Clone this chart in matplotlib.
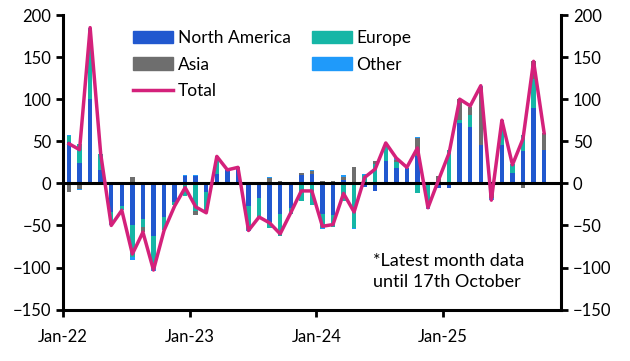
import numpy as np
import pandas as pd
import matplotlib
matplotlib.use("Agg")
import matplotlib.pyplot as plt
from matplotlib.patches import Patch
from matplotlib.lines import Line2D

plt.rcParams['font.family'] = ['Lato', 'DejaVu Sans']

# monthly flows, Jan-22 .. Oct-25
months = pd.date_range('2022-01-01', periods=46, freq='MS')

north_america = [49, 24, 100, 16, -34, -27, -50, -42, -62, -40, -22, 9,
                 9, -10, 11, 16, 18, -27, -17, -46, -36, -29, 10, 11,
                 -37, -38, 4, 0, -4, -9, 26, 18, 18, 32, -1, -5,
                 -6, 72, 67, 45, -2, 45, 12, 38, 90, 40]
europe = [7, 23, 83, 19, -14, -5, -37, -10, -39, -16, -4, -15,
          -33, -25, 21, 0, 0, -29, -25, -7, -27, -8, -21, -26,
          -16, -14, -21, -53, 10, 23, 22, 7, 0, -11, -27, 0,
          40, 3, 14, 0, 0, 28, 11, 20, 34, 0]
asia = [-10, -7, 0, 0, 0, 0, 7, -6, 0, 0, 0, 0,
        -5, 0, 0, 0, 2, 0, 0, 6, 3, 0, 2, 4,
        3, 3, 4, 20, 0, 3, 0, 3, 0, 22, 0, 9,
        0, 25, 10, 70, -16, 2, 0, -5, 21, 20]
other = [1, -1, 2, 0, -2, 0, -4, 0, -3, 0, 0, 1,
         1, 0, 0, 0, 0, -1, 0, 1, 0, 2, 0, 1,
         -1, 0, 2, -1, 1, 0, 0, 2, 0, 1, -2, -1,
         0, 0, 0, 1, -2, 0, 0, -1, 0, 0]
total = [47, 40, 185, 35, -50, -32, -84, -58, -103, -56, -27, -5,
         -28, -35, 32, 16, 19, -56, -40, -47, -60, -35, -9, -9,
         -51, -49, -12, -34, 7, 17, 48, 30, 19, 42, -29, 4,
         36, 100, 92, 116, -20, 75, 22, 53, 145, 60]

series = [('North America', north_america, '#2158CF'),
          ('Europe', europe, '#15B6A6'),
          ('Asia', asia, '#6E6E6E'),
          ('Other', other, '#1F9AFA')]

fig = plt.figure(figsize=(6.3, 3.61), dpi=100)
ax = fig.add_axes([0.1, 0.1424, 0.7905, 0.816])

x = np.arange(len(months))
pos_base = np.zeros(len(x))
neg_base = np.zeros(len(x))
for name, vals, col in series:
    v = np.array(vals, dtype=float)
    bottom = np.where(v >= 0, pos_base, neg_base)
    ax.bar(x, v, 0.42, bottom=bottom, color=col, linewidth=0, zorder=2)
    pos_base += np.clip(v, 0, None)
    neg_base += np.clip(v, None, 0)

ax.plot(x, total, color='#D4217B', linewidth=2.5, zorder=3)
ax.axhline(0, color='black', linewidth=2.2, zorder=2.5)

ax.set_xlim(-0.57, 46.6)
ax.set_ylim(-150, 200)
ax.set_yticks(np.arange(-150, 201, 50))
jan = [i for i, m in enumerate(months) if m.month == 1]
ax.set_xticks([i - 0.57 for i in jan])
ax.set_xticklabels([months[i].strftime('%b-%y') for i in jan])

for side in ['left', 'right', 'bottom']:
    ax.spines[side].set_linewidth(2.2)
ax.spines['top'].set_visible(False)
ax.tick_params(axis='both', labelsize=12, width=2, length=5, direction='out')
ax.tick_params(axis='y', right=True, labelright=True)
ax.tick_params(axis='x', pad=9)

handles = [Patch(color=series[0][2]), Patch(color=series[2][2]),
           Line2D([], [], color='#D4217B', linewidth=2.5),
           Patch(color=series[1][2]), Patch(color=series[3][2])]
labels = ['North America', 'Asia', 'Total', 'Europe', 'Other']
ax.legend(handles, labels, ncol=2, loc='upper left', bbox_to_anchor=(0.117, 0.99),
          frameon=False, fontsize=12.5, handlelength=2.3, handletextpad=0.25,
          columnspacing=1.25, labelspacing=0.6, borderaxespad=0.3)

ax.text(0.623, 0.065, '*Latest month data\nuntil 17th October', transform=ax.transAxes,
        fontsize=13, ha='left', va='bottom', linespacing=1.45)

fig.savefig('out.png', dpi=100)
